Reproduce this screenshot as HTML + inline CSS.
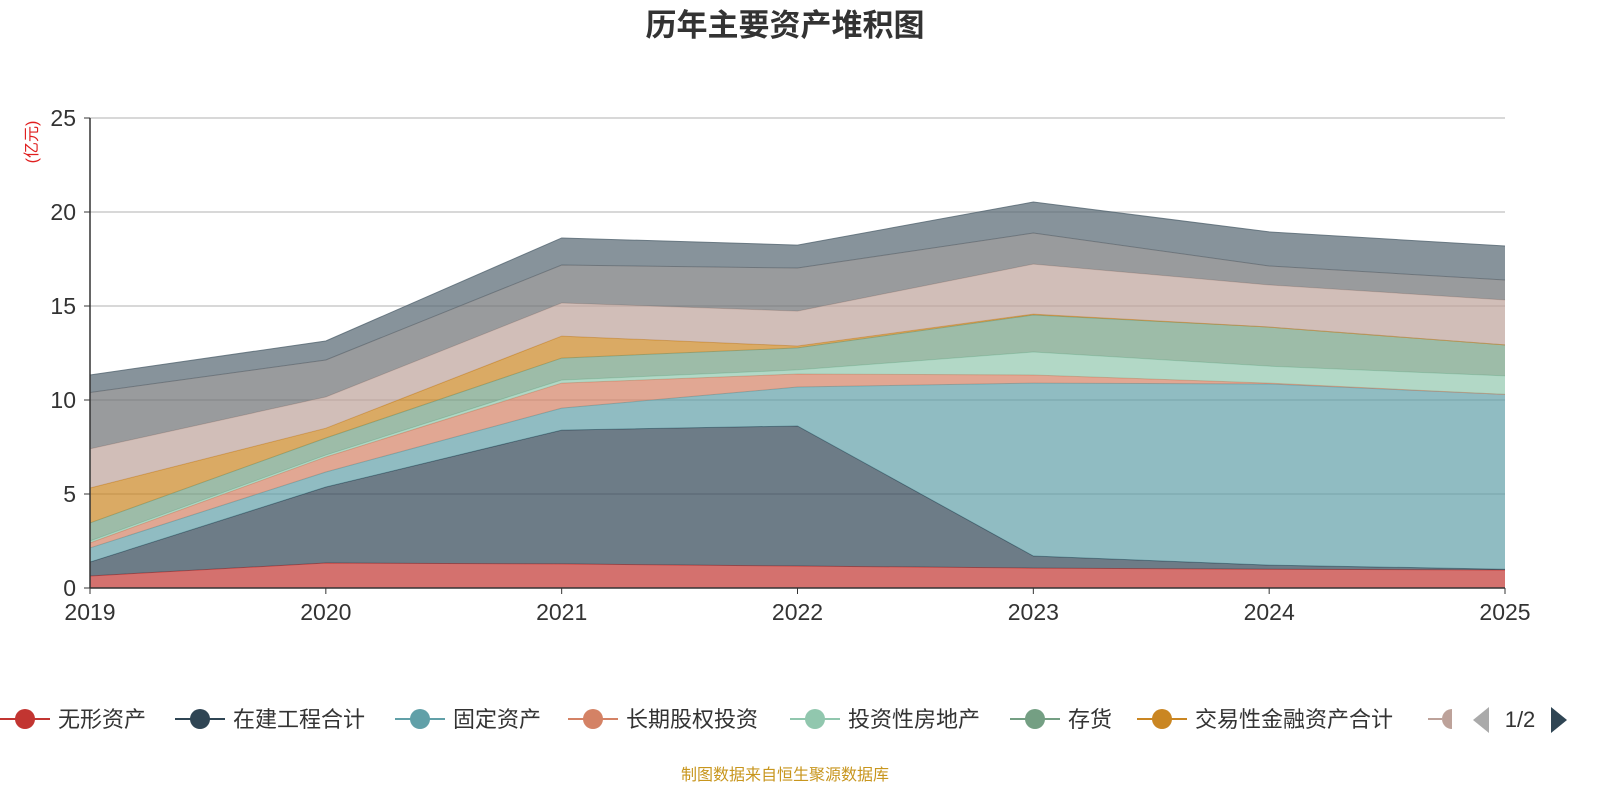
<!DOCTYPE html>
<html><head><meta charset="utf-8">
<style>
body{margin:0;width:1600px;height:800px;background:#fff;overflow:hidden;font-family:"Liberation Sans","Noto Sans CJK SC",sans-serif;}
</style></head>
<body>
<svg id="chart" width="1600" height="800" xmlns="http://www.w3.org/2000/svg">
<text x="785" y="36" text-anchor="middle" font-size="31" font-weight="bold" fill="#333" font-family="Liberation Sans,Noto Sans CJK SC,sans-serif">历年主要资产堆积图</text>
<text transform="translate(37,142) rotate(-90)" text-anchor="middle" font-size="16" fill="#e02020" font-family="Liberation Sans,Noto Sans CJK SC,sans-serif">(亿元)</text>
<g id="grid"></g>
<g id="areas"></g>
<g id="axes"></g>
<g id="legend"></g>
<text x="785" y="780" text-anchor="middle" font-size="16" fill="#c8961e" font-family="Liberation Sans,Noto Sans CJK SC,sans-serif">制图数据来自恒生聚源数据库</text>
</svg>
<script>
const years=['2019','2020','2021','2022','2023','2024','2025'];
const yTicks=[0,5,10,15,20,25];
const seriesNames=['无形资产','在建工程合计','固定资产','长期股权投资','投资性房地产','存货','交易性金融资产合计','其他','其他2','其他3'];
const s0=[0.64,1.33,1.28,1.17,1.06,1.0,0.96];
const s1=[0.74,4.04,7.12,7.45,0.64,0.22,0.04];
const s2=[0.75,0.8,1.17,2.07,9.2,9.63,9.3];
const s3=[0.27,0.8,1.33,0.69,0.43,0.05,0.0];
const s4=[0.1,0.1,0.16,0.22,1.22,0.9,0.98];
const s5=[0.96,0.91,1.17,1.17,1.97,2.08,1.65];
const s6=[1.86,0.52,1.17,0.1,0.05,0,0];
const s7=[2.08,1.66,1.76,1.86,2.66,2.24,2.39];
const s8=[3.0,1.97,2.02,2.29,1.65,1.01,1.06];
const s9=[0.93,1.01,1.44,1.22,1.65,1.81,1.81];
const series=[s0,s1,s2,s3,s4,s5,s6,s7,s8,s9];
const colors=['#c23531','#2f4554','#61a0a8','#d48265','#91c7ae','#749f83','#ca8622','#bda29a','#6e7074','#546570'];
const NS='http://www.w3.org/2000/svg';
const X0=90,X1=1505,Y0=588,Y1=118,YMAX=25;
const xs=i=>X0+(X1-X0)*i/(years.length-1);
const ys=v=>Y0-(Y0-Y1)*v/YMAX;
function mk(tag,attrs,parent){const e=document.createElementNS(NS,tag);for(const k in attrs)e.setAttribute(k,attrs[k]);parent.appendChild(e);return e;}
const grid=document.getElementById('grid'),areas=document.getElementById('areas'),axes=document.getElementById('axes'),legend=document.getElementById('legend');
yTicks.forEach(t=>{
 if(t>0){const l=mk('line',{x1:X0,x2:X1,y1:ys(t),y2:ys(t),stroke:'#ccc','stroke-width':1.5},grid);
 
 }
 const tx=mk('text',{x:X0-14,y:ys(t)+8,'text-anchor':'end','font-size':23,fill:'#333'},axes);
 tx.textContent=t;
 
 
 mk('line',{x1:X0-6,x2:X0,y1:ys(t),y2:ys(t),stroke:'#333'},axes);
});
let base=years.map(()=>0);
series.forEach((s,k)=>{
 const top=base.map((b,i)=>b+s[i]);
 let d='M'+top.map((v,i)=>xs(i)+','+ys(v)).join(' L');
 for(let i=years.length-1;i>=0;i--)d+=' L'+xs(i)+','+ys(base[i]);
 d+='Z';
 const p=mk('path',{d:d,fill:colors[k],'fill-opacity':0.7,stroke:'none'},areas);
 
 
 const ln=mk('polyline',{points:top.map((v,i)=>xs(i)+','+ys(v)).join(' '),fill:'none',stroke:colors[k],'stroke-opacity':0.8,'stroke-width':1},areas);
 
 
 base=top;
});
mk('line',{x1:X0,x2:X0,y1:Y1,y2:Y0,stroke:'#333','stroke-width':1.5},axes);
mk('line',{x1:X0,x2:X1,y1:Y0,y2:Y0,stroke:'#333','stroke-width':1.5},axes);
years.forEach((y,i)=>{
 mk('line',{x1:xs(i),x2:xs(i),y1:Y0,y2:Y0+6,stroke:'#333'},axes);
 const t=mk('text',{x:xs(i),y:Y0+32,'text-anchor':'middle','font-size':23,fill:'#333'},axes);
 t.textContent=y;
 
 
});
const legX=[0,175,395,568,790,1010,1137,1428];
legX.forEach((x,k)=>{
 const g=mk('g',{},legend);
 
 
 const c=colors[k];
 if(k<7){
  mk('line',{x1:x,x2:x+50,y1:719,y2:719,stroke:c,'stroke-width':2},g);
  mk('circle',{cx:x+25,cy:719,r:10,fill:c},g);
  const t=mk('text',{x:x+58,y:727,'font-size':22,fill:'#333'},g);t.textContent=seriesNames[k];
 } else {
  mk('line',{x1:x,x2:x+14,y1:719,y2:719,stroke:c,'stroke-width':2},g);
  mk('path',{d:`M${x+24},709 A10,10 0 0,0 ${x+24},729 Z`,fill:c},g);
 }
});
const pl=mk('path',{d:'M1489,707 L1489,733 L1473,720Z',fill:'#aaa'},legend);


const pt=mk('text',{x:1520,y:727,'text-anchor':'middle','font-size':22,fill:'#333'},legend);pt.textContent='1/2';


const pn=mk('path',{d:'M1551,707 L1551,733 L1567,720Z',fill:'#2f4554'},legend);


</script>
</body></html>
